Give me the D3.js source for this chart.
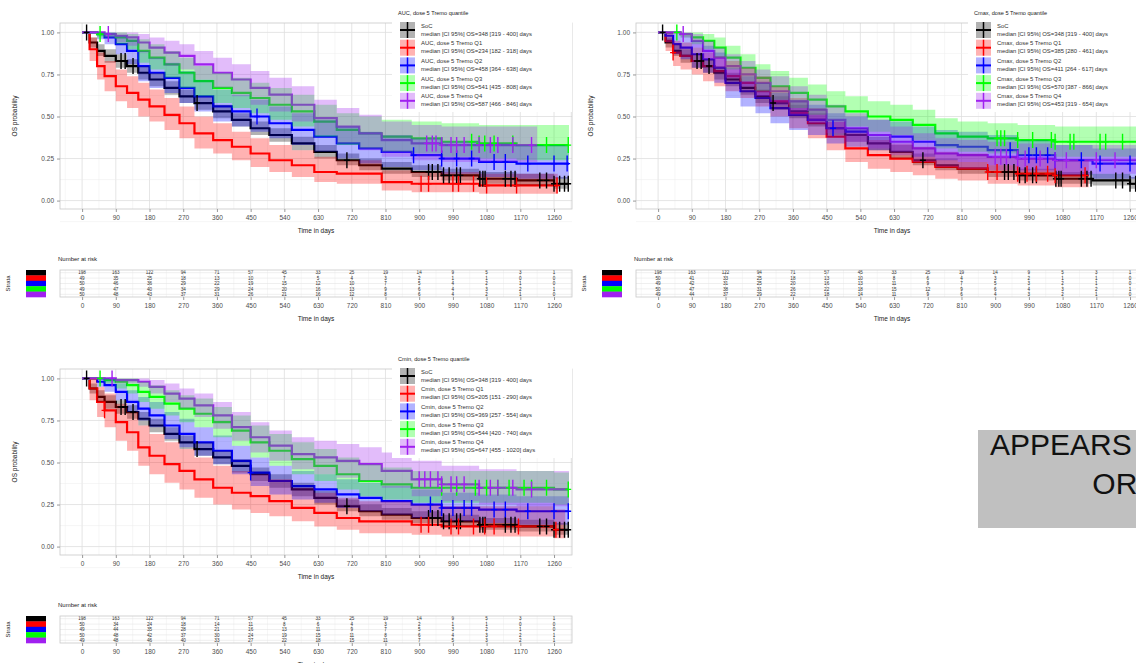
<!DOCTYPE html>
<html lang="en">
<head>
<meta charset="utf-8" />
<script src="https://cdn.jsdelivr.net/npm/d3@7"></script>
<style>
body { margin: 0; background: #fff; }
svg { display: block; font-family: "Liberation Sans", Arial, sans-serif; }
</style>
</head>
<body>
<svg id="chart" width="1136" height="663"></svg>
<script>
// ---- data ----
var timeGrid = [0,20,40,60,90,120,150,180,220,260,300,350,400,450,500,560,620,680,740,800,880,960,1060,1160,1260,1300];
var xTicks = [0,90,180,270,360,450,540,630,720,810,900,990,1080,1170,1260];
var yTicks = [0,0.25,0.5,0.75,1];
var strataColors = ["#000000","#FF0000","#0000FF","#00FF00","#A020F0"];

// SoC (same arm in all three panels)
var socSurv = [1,0.94,0.89,0.86,0.83,0.80,0.76,0.72,0.67,0.62,0.58,0.53,0.48,0.43,0.39,0.34,0.29,0.24,0.21,0.19,0.17,0.15,0.13,0.12,0.10,0.10];
var socLo   = [1,0.91,0.86,0.82,0.79,0.76,0.72,0.68,0.63,0.58,0.54,0.49,0.44,0.39,0.35,0.30,0.25,0.21,0.18,0.16,0.14,0.12,0.10,0.09,0.07,0.07];
var socHi   = [1,0.97,0.93,0.90,0.87,0.84,0.80,0.76,0.71,0.66,0.62,0.57,0.52,0.47,0.43,0.38,0.33,0.28,0.25,0.23,0.21,0.19,0.17,0.16,0.14,0.14];
var socCensor = [12,104,115,136,307,707,925,935,950,965,980,1000,1010,1062,1070,1076,1130,1145,1156,1222,1240,1260,1275,1288,1298];

// AUC quartiles
var aucQ1Surv = [1,0.90,0.80,0.74,0.68,0.64,0.60,0.56,0.51,0.46,0.40,0.36,0.32,0.28,0.24,0.21,0.17,0.16,0.16,0.11,0.10,0.10,0.09,0.09,0.09,0.09];
var aucQ1Lo   = [1,0.83,0.72,0.65,0.59,0.55,0.50,0.47,0.42,0.37,0.31,0.28,0.24,0.20,0.17,0.14,0.11,0.10,0.10,0.06,0.05,0.05,0.04,0.04,0.04,0.04];
var aucQ1Hi   = [1,0.97,0.88,0.83,0.78,0.74,0.70,0.66,0.61,0.56,0.50,0.46,0.41,0.37,0.33,0.30,0.26,0.24,0.24,0.18,0.17,0.17,0.16,0.16,0.16,0.16];
var aucQ2Surv = [1,1,0.99,0.97,0.93,0.89,0.80,0.76,0.73,0.67,0.62,0.56,0.53,0.50,0.46,0.42,0.38,0.34,0.31,0.29,0.27,0.25,0.23,0.22,0.22,0.22];
var aucQ2Lo   = [1,1,0.96,0.93,0.87,0.81,0.71,0.67,0.64,0.58,0.53,0.47,0.44,0.41,0.37,0.33,0.29,0.25,0.22,0.20,0.18,0.16,0.14,0.13,0.13,0.13];
var aucQ2Hi   = [1,1,1,1,0.98,0.96,0.89,0.85,0.82,0.77,0.72,0.66,0.63,0.60,0.56,0.52,0.48,0.44,0.41,0.39,0.37,0.35,0.34,0.33,0.33,0.33];
var aucQ3Surv = [1,1,0.99,0.99,0.97,0.95,0.89,0.85,0.81,0.76,0.71,0.67,0.64,0.61,0.57,0.53,0.47,0.42,0.40,0.38,0.37,0.35,0.34,0.33,0.33,0.33];
var aucQ3Lo   = [1,1,0.97,0.97,0.93,0.90,0.82,0.78,0.73,0.67,0.62,0.58,0.55,0.52,0.48,0.44,0.38,0.33,0.31,0.29,0.28,0.26,0.25,0.24,0.24,0.24];
var aucQ3Hi   = [1,1,1,1,1,0.99,0.96,0.93,0.89,0.85,0.80,0.76,0.73,0.70,0.67,0.63,0.57,0.52,0.50,0.48,0.47,0.46,0.45,0.45,0.45,0.45];
var aucQ4Surv = [1,1,1,0.99,0.98,0.97,0.94,0.91,0.88,0.86,0.81,0.76,0.72,0.67,0.63,0.57,0.49,0.44,0.40,0.36,0.34,0.33,0.33,0.33,0.33,0.33];
var aucQ4Lo   = [1,1,1,0.97,0.94,0.92,0.88,0.84,0.80,0.78,0.72,0.67,0.62,0.57,0.53,0.47,0.39,0.34,0.30,0.26,0.24,0.23,0.23,0.23,0.23,0.23];
var aucQ4Hi   = [1,1,1,1,1,1,0.99,0.97,0.95,0.93,0.89,0.85,0.81,0.77,0.73,0.68,0.60,0.55,0.51,0.47,0.45,0.44,0.44,0.44,0.44,0.44];

// Cmax quartiles
var cmaxQ1Surv = [1,0.95,0.88,0.86,0.83,0.80,0.77,0.74,0.70,0.65,0.59,0.52,0.46,0.38,0.31,0.27,0.25,0.23,0.20,0.19,0.17,0.16,0.15,0.14,0.14,0.14];
var cmaxQ1Lo   = [1,0.89,0.80,0.78,0.75,0.71,0.68,0.65,0.61,0.56,0.50,0.43,0.37,0.30,0.23,0.19,0.17,0.15,0.13,0.12,0.10,0.09,0.08,0.08,0.08,0.08];
var cmaxQ1Hi   = [1,1,0.95,0.94,0.91,0.88,0.86,0.83,0.79,0.74,0.68,0.61,0.55,0.47,0.40,0.36,0.34,0.32,0.29,0.28,0.26,0.25,0.24,0.23,0.23,0.23];
var cmaxQ2Surv = [1,0.98,0.93,0.91,0.87,0.84,0.79,0.70,0.65,0.61,0.55,0.51,0.48,0.43,0.41,0.39,0.38,0.35,0.33,0.32,0.30,0.27,0.24,0.22,0.22,0.22];
var cmaxQ2Lo   = [1,0.94,0.87,0.84,0.79,0.76,0.70,0.61,0.56,0.52,0.46,0.42,0.39,0.34,0.32,0.30,0.29,0.26,0.24,0.23,0.21,0.18,0.15,0.13,0.13,0.13];
var cmaxQ2Hi   = [1,1,0.99,0.98,0.95,0.92,0.88,0.79,0.74,0.70,0.64,0.60,0.57,0.52,0.50,0.48,0.47,0.44,0.42,0.41,0.39,0.36,0.33,0.31,0.31,0.31];
var cmaxQ3Surv = [1,1,1,0.99,0.97,0.95,0.91,0.85,0.79,0.73,0.68,0.64,0.60,0.56,0.53,0.50,0.48,0.45,0.40,0.38,0.37,0.36,0.35,0.35,0.35,0.35];
var cmaxQ3Lo   = [1,1,1,0.97,0.93,0.90,0.85,0.78,0.71,0.65,0.60,0.55,0.51,0.47,0.44,0.41,0.39,0.36,0.31,0.29,0.28,0.27,0.26,0.26,0.26,0.26];
var cmaxQ3Hi   = [1,1,1,1,1,0.99,0.97,0.92,0.87,0.81,0.77,0.73,0.69,0.65,0.62,0.59,0.57,0.54,0.49,0.47,0.46,0.45,0.44,0.44,0.44,0.44];
var cmaxQ4Surv = [1,1,1,0.99,0.95,0.89,0.85,0.80,0.75,0.70,0.65,0.59,0.54,0.48,0.43,0.39,0.35,0.31,0.28,0.27,0.26,0.25,0.24,0.24,0.24,0.24];
var cmaxQ4Lo   = [1,1,1,0.97,0.91,0.84,0.79,0.73,0.68,0.62,0.57,0.51,0.46,0.40,0.35,0.31,0.27,0.23,0.20,0.19,0.18,0.17,0.16,0.16,0.16,0.16];
var cmaxQ4Hi   = [1,1,1,1,0.99,0.95,0.91,0.87,0.83,0.78,0.74,0.68,0.63,0.57,0.52,0.48,0.44,0.40,0.37,0.36,0.35,0.34,0.33,0.33,0.33,0.33];

// Cmin quartiles
var cminQ1Surv = [1,0.94,0.86,0.81,0.74,0.68,0.59,0.54,0.49,0.45,0.40,0.35,0.32,0.30,0.27,0.23,0.20,0.17,0.15,0.15,0.13,0.12,0.12,0.12,0.10,0.10];
var cminQ1Lo   = [1,0.87,0.77,0.71,0.63,0.57,0.48,0.43,0.38,0.34,0.29,0.25,0.22,0.20,0.18,0.15,0.12,0.10,0.08,0.08,0.07,0.06,0.06,0.06,0.05,0.05];
var cminQ1Hi   = [1,1,0.95,0.91,0.85,0.80,0.72,0.67,0.62,0.58,0.53,0.48,0.45,0.43,0.40,0.35,0.32,0.29,0.27,0.27,0.25,0.24,0.24,0.24,0.22,0.22];
var cminQ2Surv = [1,1,0.98,0.96,0.92,0.86,0.82,0.78,0.72,0.67,0.62,0.57,0.51,0.44,0.39,0.36,0.34,0.31,0.29,0.27,0.25,0.23,0.22,0.21,0.21,0.21];
var cminQ2Lo   = [1,1,0.95,0.92,0.87,0.80,0.75,0.71,0.64,0.59,0.54,0.49,0.43,0.36,0.31,0.28,0.26,0.23,0.21,0.19,0.17,0.15,0.14,0.13,0.13,0.13];
var cminQ2Hi   = [1,1,1,1,0.97,0.93,0.89,0.86,0.80,0.76,0.71,0.66,0.60,0.53,0.48,0.45,0.43,0.40,0.38,0.36,0.34,0.32,0.31,0.30,0.30,0.30];
var cminQ3Surv = [1,1,1,0.99,0.98,0.96,0.92,0.89,0.85,0.82,0.79,0.74,0.69,0.62,0.57,0.52,0.48,0.43,0.39,0.37,0.35,0.35,0.35,0.35,0.34,0.34];
var cminQ3Lo   = [1,1,1,0.97,0.94,0.91,0.86,0.82,0.78,0.74,0.71,0.65,0.60,0.53,0.48,0.43,0.39,0.34,0.30,0.28,0.26,0.26,0.26,0.26,0.25,0.25];
var cminQ3Hi   = [1,1,1,1,1,1,0.98,0.96,0.93,0.90,0.88,0.83,0.78,0.72,0.67,0.62,0.58,0.53,0.49,0.47,0.45,0.45,0.45,0.45,0.44,0.44];
var cminQ4Surv = [1,1,1,1,0.99,0.99,0.98,0.95,0.91,0.88,0.84,0.78,0.71,0.65,0.60,0.55,0.53,0.51,0.49,0.45,0.40,0.37,0.35,0.34,0.34,0.34];
var cminQ4Lo   = [1,1,1,1,0.97,0.97,0.95,0.91,0.86,0.82,0.77,0.70,0.63,0.56,0.51,0.46,0.43,0.41,0.39,0.35,0.30,0.27,0.25,0.24,0.24,0.24];
var cminQ4Hi   = [1,1,1,1,1,1,1,0.99,0.97,0.94,0.91,0.86,0.80,0.74,0.69,0.65,0.63,0.61,0.59,0.56,0.51,0.48,0.46,0.45,0.45,0.45];

// last follow-up per stratum (SoC, Q1..Q4)
var aucEnds  = [1300,1270,1300,1300,1215];
var cmaxEnds = [1300,1150,1300,1300,1300];
var cminEnds = [1300,1290,1300,1300,1300];

var aucCensor = [socCensor,
  [905,925,990,1005,1045,1080,1160,1268],
  [467,885,960,1000,1040,1100,1130,1190,1260,1295],
  [48,1040,1060,1075,1100,1150,1240,1298],
  [70,920,935,945,960,985,1000,1020,1060,1090,1110,1150,1200]];
var cmaxCensor = [socCensor,
  [40,880,905,960,985,1010,1040,1060,1140],
  [467,940,990,1010,1040,1060,1130,1180,1260,1295],
  [50,905,915,925,960,1000,1050,1060,1100,1110,1180,1195,1240,1300],
  [67,900,915,930,960,980,1020,1060,1090,1170,1220,1290]];
var cminCensor = [socCensor,
  [60,905,925,985,1005,1045,1075,1100,1165,1265],
  [450,930,960,990,1020,1040,1100,1130,1190,1260,1298],
  [48,960,1000,1050,1080,1110,1140,1180,1200,1240,1298],
  [80,900,915,930,950,960,985,1000,1020,1060,1090,1110,1150,1200]];

var riskAuc = [
  [198,163,122,94,71,57,45,33,25,19,14,9,5,3,1],
  [49,35,25,18,13,10,7,5,4,3,2,1,1,0,0],
  [50,46,36,29,22,19,15,12,10,7,5,4,2,1,0],
  [49,47,40,34,29,24,20,16,13,9,6,4,3,2,1],
  [50,48,43,37,31,26,21,16,12,8,6,4,2,1,0]];
var riskCmax = [
  [198,163,122,94,71,57,45,33,25,19,14,9,5,3,1],
  [50,41,33,25,18,13,10,8,6,4,3,2,1,1,0],
  [49,42,31,25,20,16,13,11,9,7,5,3,2,1,0],
  [50,47,38,31,26,22,18,15,12,9,6,4,3,2,1],
  [49,44,37,29,22,18,14,11,9,6,4,3,2,1,0]];
var riskCmin = [
  [198,163,122,94,71,57,45,33,25,19,14,9,5,3,1],
  [50,34,24,18,14,11,8,6,4,3,2,1,1,0,0],
  [49,44,35,28,21,16,13,11,9,7,5,3,2,1,0],
  [50,48,42,37,30,24,19,15,11,8,6,4,3,2,1],
  [49,48,46,40,33,27,22,18,15,11,7,5,3,2,1]];

var aucLegend = ["SoC","AUC, dose 5 Tremo Q1","AUC, dose 5 Tremo Q2","AUC, dose 5 Tremo Q3","AUC, dose 5 Tremo Q4"];
var aucMedians = ["348 [319 - 400]","234 [182 - 318]","458 [364 - 638]","541 [435 - 808]","587 [466 - 846]"];
var cmaxLegend = ["SoC","Cmax, dose 5 Tremo Q1","Cmax, dose 5 Tremo Q2","Cmax, dose 5 Tremo Q3","Cmax, dose 5 Tremo Q4"];
var cmaxMedians = ["348 [319 - 400]","385 [280 - 461]","411 [264 - 617]","570 [387 - 866]","453 [319 - 654]"];
var cminLegend = ["SoC","Cmin, dose 5 Tremo Q1","Cmin, dose 5 Tremo Q2","Cmin, dose 5 Tremo Q3","Cmin, dose 5 Tremo Q4"];
var cminMedians = ["348 [319 - 400]","205 [151 - 290]","369 [257 - 554]","544 [420 - 740]","647 [455 - 1020]"];

var panels = [
  { ox: 0, oy: 0, title: "AUC, dose 5 Tremo quantile", names: aucLegend, medians: aucMedians,
    surv: [socSurv, aucQ1Surv, aucQ2Surv, aucQ3Surv, aucQ4Surv],
    lo: [socLo, aucQ1Lo, aucQ2Lo, aucQ3Lo, aucQ4Lo],
    hi: [socHi, aucQ1Hi, aucQ2Hi, aucQ3Hi, aucQ4Hi],
    ends: aucEnds, censor: aucCensor, risk: riskAuc },
  { ox: 576, oy: 0, title: "Cmax, dose 5 Tremo quantile", names: cmaxLegend, medians: cmaxMedians,
    surv: [socSurv, cmaxQ1Surv, cmaxQ2Surv, cmaxQ3Surv, cmaxQ4Surv],
    lo: [socLo, cmaxQ1Lo, cmaxQ2Lo, cmaxQ3Lo, cmaxQ4Lo],
    hi: [socHi, cmaxQ1Hi, cmaxQ2Hi, cmaxQ3Hi, cmaxQ4Hi],
    ends: cmaxEnds, censor: cmaxCensor, risk: riskCmax },
  { ox: 0, oy: 346, title: "Cmin, dose 5 Tremo quantile", names: cminLegend, medians: cminMedians,
    surv: [socSurv, cminQ1Surv, cminQ2Surv, cminQ3Surv, cminQ4Surv],
    lo: [socLo, cminQ1Lo, cminQ2Lo, cminQ3Lo, cminQ4Lo],
    hi: [socHi, cminQ1Hi, cminQ2Hi, cminQ3Hi, cminQ4Hi],
    ends: cminEnds, censor: cminCensor, risk: riskCmin }
];

var svg = d3.select("#chart");

var x = d3.scaleLinear().domain([-59, 1308]).range([60, 572]);
var y = d3.scaleLinear().domain([-0.05, 1.05]).range([209, 24]);
var row = d3.scaleBand().domain([0,1,2,3,4]).range([270, 297]);

function stepPoints(surv, lo, hi, end) {
  var pts = [];
  timeGrid.forEach(function(t, i) {
    if (t < end) pts.push({ t: t, s: surv[i], lo: lo[i], hi: hi[i] });
  });
  var last = pts[pts.length - 1];
  pts.push({ t: end, s: last.s, lo: last.lo, hi: last.hi });
  return pts;
}

function survAt(surv, t) {
  var i = d3.bisectRight(timeGrid, t) - 1;
  return surv[Math.max(0, i)];
}

var line = d3.line().x(function(d) { return x(d.t); }).y(function(d) { return y(d.s); }).curve(d3.curveStepAfter);
var band = d3.area().x(function(d) { return x(d.t); })
  .y0(function(d) { return y(d.lo); }).y1(function(d) { return y(d.hi); }).curve(d3.curveStepAfter);

function grid(g, top, bottom, withY) {
  var minorX = xTicks.slice(0, -1).map(function(d) { return d + 45; }).concat([-45, 1305]);
  g.selectAll("line.mx").data(minorX).enter().append("line")
    .attr("x1", x).attr("x2", x).attr("y1", top).attr("y2", bottom)
    .attr("stroke", "#ececec").attr("stroke-width", 0.5);
  g.selectAll("line.gx").data(xTicks).enter().append("line")
    .attr("x1", x).attr("x2", x).attr("y1", top).attr("y2", bottom)
    .attr("stroke", "#dedede").attr("stroke-width", 0.8);
  if (withY) {
    g.selectAll("line.my").data([-0.125,0.125,0.375,0.625,0.875]).enter().append("line")
      .attr("x1", 60).attr("x2", 572).attr("y1", y).attr("y2", y)
      .attr("stroke", "#ececec").attr("stroke-width", 0.5);
    g.selectAll("line.gy").data(yTicks).enter().append("line")
      .attr("x1", 60).attr("x2", 572).attr("y1", y).attr("y2", y)
      .attr("stroke", "#dedede").attr("stroke-width", 0.8);
  }
}

function styleAxis(a) {
  a.select(".domain").remove();
  a.selectAll(".tick line").attr("stroke", "#999");
  a.selectAll(".tick text").attr("fill", "#4d4d4d").style("font-size", "6.5px");
}

panels.forEach(function(p, pi) {
  var g = svg.append("g").attr("transform", "translate(" + p.ox + "," + p.oy + ")");

  // ---- survival panel ----
  g.append("rect").attr("x", 60).attr("y", 23).attr("width", 512).attr("height", 186).attr("fill", "#fff");
  grid(g, 23, 209, true);

  var clipId = "clip" + pi;
  g.append("clipPath").attr("id", clipId).append("rect")
    .attr("x", 60).attr("y", 23).attr("width", 512).attr("height", 186);
  var plot = g.append("g").attr("clip-path", "url(#" + clipId + ")");

  var strata = p.surv.map(function(s, i) { return stepPoints(s, p.lo[i], p.hi[i], p.ends[i]); });

  // lines first, then ribbons on top (tints the lines), then censor marks
  strata.forEach(function(pts, i) {
    plot.append("path").datum(pts).attr("d", line)
      .attr("fill", "none").attr("stroke", strataColors[i]).attr("stroke-width", 2.2);
  });
  strata.forEach(function(pts, i) {
    plot.append("path").datum(pts).attr("d", band)
      .attr("fill", strataColors[i]).attr("fill-opacity", 0.3);
  });
  p.censor.forEach(function(times, i) {
    plot.selectAll(null).data(times).enter().append("path")
      .attr("d", function(t) {
        var cx = x(t), cy = y(survAt(p.surv[i], t));
        return "M" + cx + "," + (cy - 8) + "V" + (cy + 8) + "M" + (cx - 3) + "," + cy + "H" + (cx + 3);
      })
      .attr("stroke", strataColors[i]).attr("stroke-width", 1.4).attr("fill", "none");
  });

  g.append("rect").attr("x", 60).attr("y", 23).attr("width", 512).attr("height", 186)
    .attr("fill", "none").attr("stroke", "#c8c8c8").attr("stroke-width", 0.8);

  var ax = g.append("g").attr("transform", "translate(0,209)")
    .call(d3.axisBottom(x).tickValues(xTicks).tickSize(3).tickPadding(3).tickFormat(d3.format("d")));
  styleAxis(ax);
  var ay = g.append("g").attr("transform", "translate(60,0)")
    .call(d3.axisLeft(y).tickValues(yTicks).tickSize(3).tickPadding(3).tickFormat(d3.format(".2f")));
  styleAxis(ay);

  g.append("text").attr("x", 316).attr("y", 233).attr("text-anchor", "middle")
    .style("font-size", "6.5px").attr("fill", "#222").text("Time in days");
  g.append("text").attr("transform", "translate(17,116) rotate(-90)").attr("text-anchor", "middle")
    .style("font-size", "6.5px").attr("fill", "#222").text("OS probability");

  // ---- legend ----
  var lg = g.append("g");
  lg.append("rect").attr("x", 392).attr("y", 19).attr("width", 180).attr("height", 93).attr("fill", "#fff");
  lg.append("text").attr("x", 398).attr("y", 15).style("font-size", "5.6px").attr("fill", "#222").text(p.title);
  p.names.forEach(function(name, i) {
    var top = 22 + i * 17.7;
    var c = strataColors[i];
    lg.append("rect").attr("x", 400).attr("y", top).attr("width", 15).attr("height", 16)
      .attr("fill", c).attr("fill-opacity", 0.3);
    lg.append("line").attr("x1", 400).attr("x2", 415).attr("y1", top + 8).attr("y2", top + 8)
      .attr("stroke", c).attr("stroke-width", 2);
    lg.append("line").attr("x1", 407.5).attr("x2", 407.5).attr("y1", top).attr("y2", top + 16)
      .attr("stroke", c).attr("stroke-width", 1.5);
    lg.append("text").attr("x", 421).attr("y", top + 5.5).style("font-size", "5.9px").attr("fill", "#333").text(name);
    lg.append("text").attr("x", 421).attr("y", top + 13.5).style("font-size", "5.9px").attr("fill", "#333")
      .text("median [CI 95%] OS=" + p.medians[i] + " days");
  });

  // ---- number at risk table ----
  g.append("text").attr("x", 58).attr("y", 261).style("font-size", "6px").attr("fill", "#222").text("Number at risk");
  g.append("rect").attr("x", 60).attr("y", 270).attr("width", 512).attr("height", 27).attr("fill", "#fff");
  var rg = g.append("g");
  grid(rg, 270, 297, false);
  rg.selectAll("line.rh").data([0,1,2,3,4]).enter().append("line")
    .attr("x1", 60).attr("x2", 572)
    .attr("y1", function(d) { return row(d) + row.bandwidth() / 2; })
    .attr("y2", function(d) { return row(d) + row.bandwidth() / 2; })
    .attr("stroke", "#e4e4e4").attr("stroke-width", 0.6);
  p.risk.forEach(function(vals, ri) {
    rg.selectAll(null).data(vals).enter().append("text")
      .attr("x", function(d, k) { return x(xTicks[k]); })
      .attr("y", row(ri) + row.bandwidth() / 2 + 1.7)
      .attr("text-anchor", "middle").style("font-size", "4.6px").attr("fill", "#333")
      .text(function(d) { return d; });
  });
  g.append("rect").attr("x", 60).attr("y", 270).attr("width", 512).attr("height", 27)
    .attr("fill", "none").attr("stroke", "#c8c8c8").attr("stroke-width", 0.8);
  var rx = g.append("g").attr("transform", "translate(0,297)")
    .call(d3.axisBottom(x).tickValues(xTicks).tickSize(3).tickPadding(3).tickFormat(d3.format("d")));
  styleAxis(rx);
  g.append("text").attr("x", 316).attr("y", 321).attr("text-anchor", "middle")
    .style("font-size", "6.5px").attr("fill", "#222").text("Time in days");
  g.append("text").attr("transform", "translate(10,283.5) rotate(-90)").attr("text-anchor", "middle")
    .style("font-size", "6px").attr("fill", "#222").text("Strata");
  strataColors.forEach(function(c, i) {
    g.append("rect").attr("x", 26).attr("y", row(i)).attr("width", 20).attr("height", row.bandwidth() + 0.3)
      .attr("fill", c);
  });
});

// grey placeholder box
var box = svg.append("g");
box.append("rect").attr("x", 978).attr("y", 430).attr("width", 370).attr("height", 98).attr("fill", "#c0c0c0");
box.append("text").attr("x", 1162).attr("y", 455).attr("text-anchor", "middle")
  .style("font-family", "'Liberation Sans', Arial, sans-serif").style("font-size", "30px").attr("fill", "#111")
  .text("APPEARS THIS WAY ON");
box.append("text").attr("x", 1164).attr("y", 494).attr("text-anchor", "middle")
  .style("font-family", "'Liberation Sans', Arial, sans-serif").style("font-size", "30px").attr("fill", "#111")
  .text("ORIGINAL");
</script>
</body>
</html>
